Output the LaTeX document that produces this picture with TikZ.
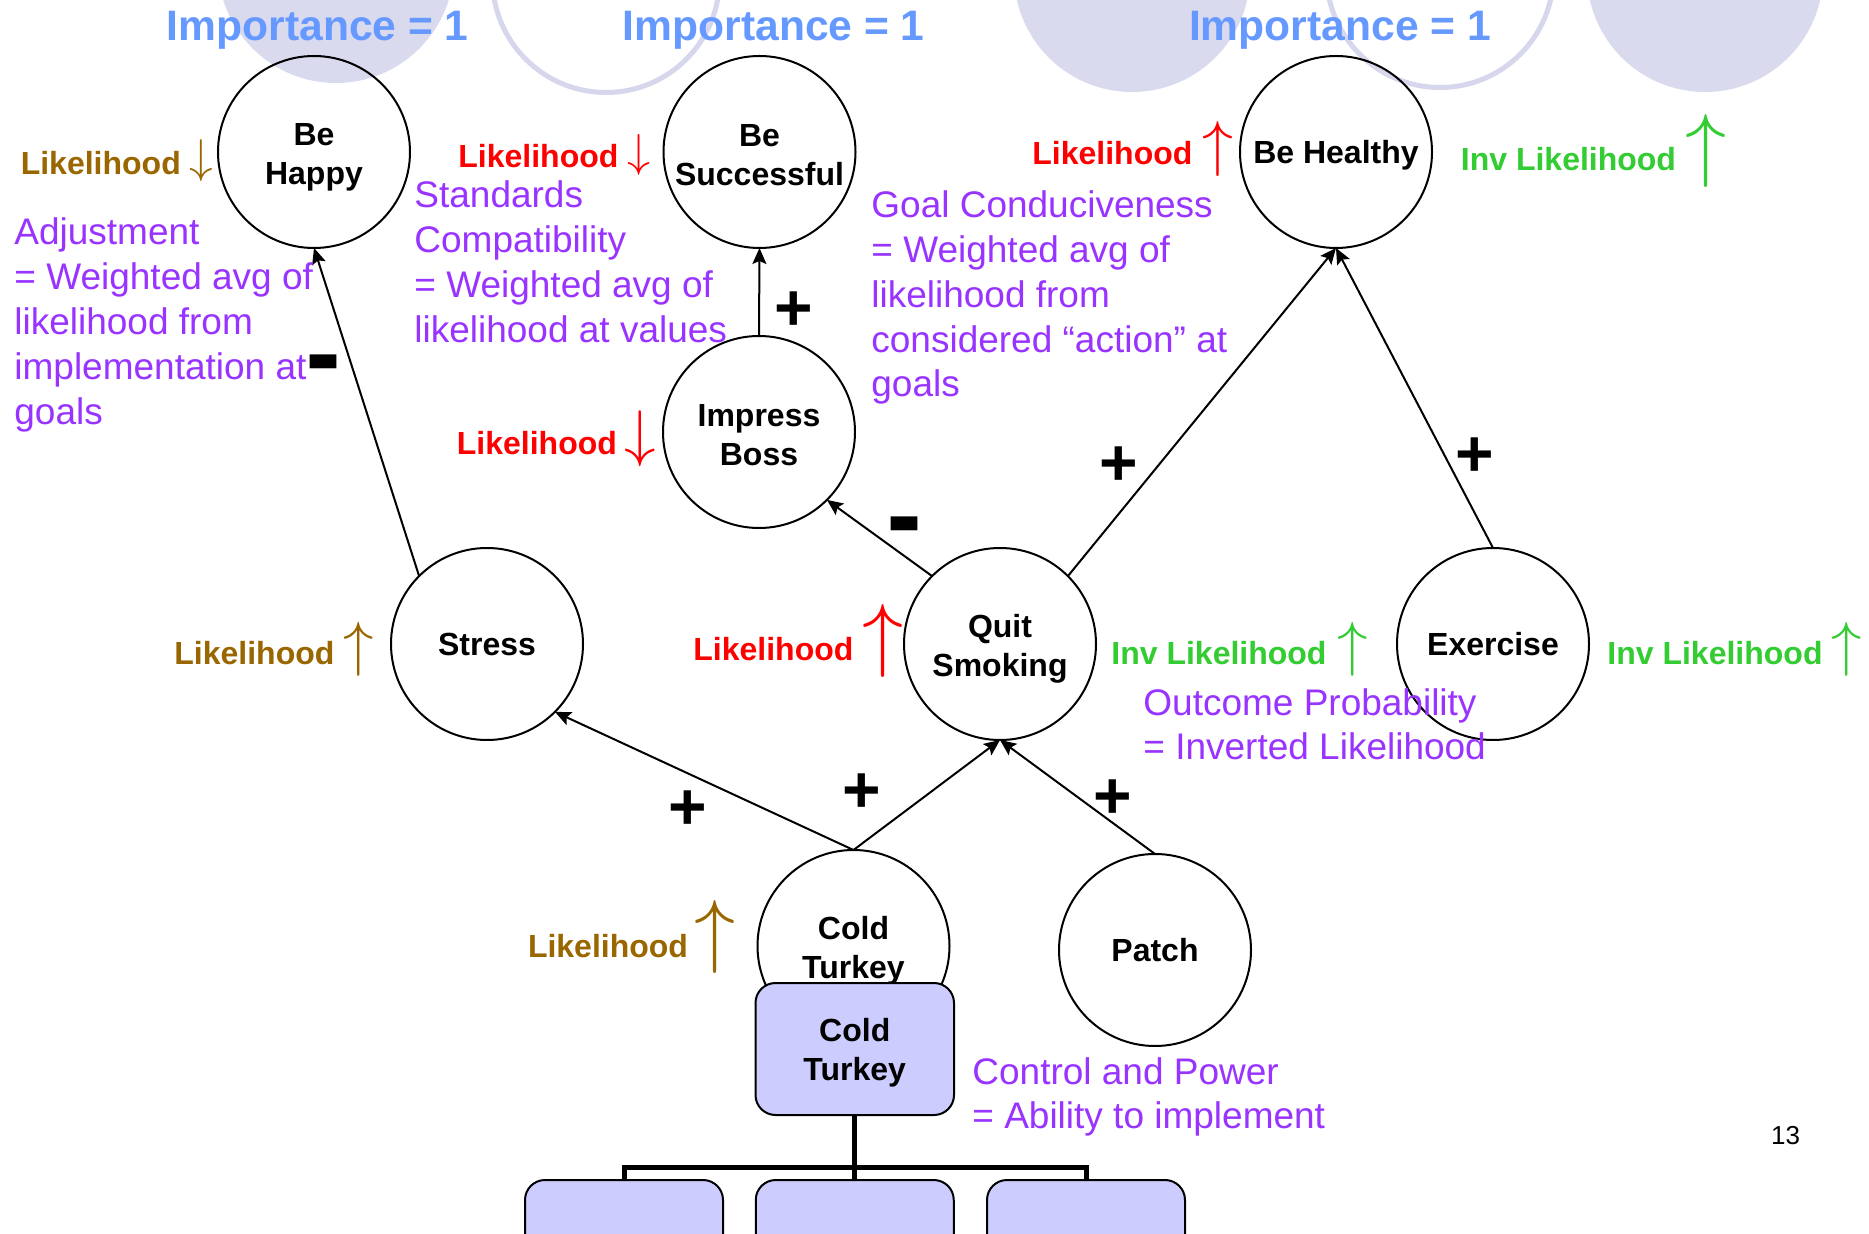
\documentclass[tikz,border=0pt]{standalone}
\usepackage{fontspec}
\usepackage{graphicx}
\setmainfont{Liberation Sans}
\usetikzlibrary{arrows.meta}

\definecolor{lav}{RGB}{218,218,238}
\definecolor{lavring}{RGB}{214,214,236}
\definecolor{boxfill}{RGB}{204,204,255}
\definecolor{impcol}{RGB}{102,153,255}
\definecolor{lbrown}{RGB}{153,102,0}
\definecolor{lred}{RGB}{255,0,0}
\definecolor{lgreen}{RGB}{51,204,51}
\definecolor{notecol}{RGB}{153,51,255}

% thin trend arrows of a given total height
\newcommand\trendup[1]{\resizebox*{!}{#1}{$\uparrow$}}
\newcommand\trenddown[1]{\resizebox*{!}{#1}{$\downarrow$}}
% invisible strut that sets the height of a node's first line
\newcommand\firstline[1]{\rule{0pt}{#1}}

\begin{document}
\begin{tikzpicture}[x=0.5pt,y=-0.5pt,
  goal/.style={circle, draw, line width=1pt, minimum size=96pt, inner sep=0pt,
    outer sep=0pt, align=center, font=\fontsize{16}{19.5}\selectfont\bfseries},
  ctbox/.style={draw, line width=1pt, fill=boxfill, rounded corners=10pt,
    minimum width=99.25pt, minimum height=66pt, inner sep=0pt, outer sep=0pt,
    align=center, font=\fontsize{16}{19.5}\selectfont\bfseries},
  optbox/.style={draw, line width=1pt, fill=boxfill, rounded corners=10pt,
    minimum width=99pt, minimum height=60pt, inner sep=0pt, outer sep=0pt, anchor=north},
  link/.style={-{Stealth[length=8pt,width=7pt,inset=1.5pt]}, line width=1pt},
  tree/.style={line width=2.5pt, line join=miter},
  lbl/.style={anchor=base west, inner sep=0pt, yshift=-1.2pt, font=\fontsize{16}{19.5}\selectfont\bfseries},
  note/.style={anchor=base west, inner sep=0pt, yshift=-1pt, text=notecol, font=\fontsize{18.5}{22.5}\selectfont},
  imp/.style={anchor=base, inner sep=0pt, yshift=-0.5pt, text=impcol, font=\fontsize{21.3}{25}\selectfont\bfseries},
  trend/.style={inner sep=0pt},
  sign/.style={inner sep=0pt, xshift=0.75pt, yshift=-2pt, font=\fontsize{33}{33}\selectfont\bfseries},
  minus/.style={inner sep=0pt, anchor=base, font=\fontsize{27}{27}\selectfont\bfseries}
]
\useasboundingbox (0,0) rectangle (1869,1234);
\fill[white] (0,0) rectangle (1869,1234);
\clip (0,0) rectangle (1869,1234);

% decorative circles along the top edge
\fill[lav] (336,-35) circle[radius=118];
\draw[lavring, line width=2.5pt] (606,-21) circle[radius=113.5];
\fill[lav] (1132,-26) circle[radius=118];
\draw[lavring, line width=2.5pt] (1440,-26) circle[radius=113.5];
\fill[lav] (1705,-26) circle[radius=118];

% importance of the top-level goals
\node[imp] (imp1) at (317.75,39.3) {Importance = 1};
\node[imp] (imp2) at (773.75,39.3) {Importance = 1};
\node[imp] (imp3) at (1340,39.3) {Importance = 1};

% goals and actions
\node[goal] (behappy) at (314,152) {\firstline{16pt}Be\\Happy};
\node[goal] (besucc) at (759.5,152) {\firstline{14.5pt}Be\\Successful};
\node[goal] (behealthy) at (1336,152) {\firstline{15pt}Be Healthy};
\node[goal] (impress) at (759,432) {\firstline{14.5pt}Impress\\Boss};
\node[goal] (stress) at (487,644) {Stress};
\node[goal] (quit) at (1000,644) {\firstline{16pt}Quit\\Smoking};
\node[goal] (exercise) at (1493,644) {Exercise};
\node[goal] (coldc) at (853.5,946) {\firstline{16pt}Cold\\Turkey};
\node[goal] (patch) at (1155,950) {Patch};

% influences
\draw[link] (stress.135) -- (behappy.south);
\draw[link] (impress.north) -- (besucc.south);
\draw[link] (quit.135) -- (impress.-45);
\draw[link] (quit.45) -- (behealthy.south);
\draw[link] (exercise.north) -- (behealthy.south);
\draw[link] (coldc.north) -- (stress.-45);
\draw[link] (coldc.north) -- (quit.south);
\draw[link] (patch.north) -- (quit.south);

% signs of the influences
\node[minus] (m1) at (324,399.6) {\scalebox{1}[2.6]{–}};
\node[sign] (p1) at (792,307) {+};
\node[minus] (m2) at (905,561.6) {\scalebox{1}[2.6]{–}};
\node[sign] (p2) at (1117,462.5) {+};
\node[sign] (p3) at (1473,453) {+};
\node[sign] (p4) at (686.6,806) {+};
\node[sign] (p5) at (860.6,789) {+};
\node[sign] (p6) at (1111,795) {+};

% implementation of Cold Turkey
\node[ctbox] (ctbox) at (854.75,1049) {\firstline{15.5pt}Cold\\Turkey};
\node[optbox] (opt1) at (624,1180) {};
\node[optbox] (opt2) at (854.75,1180) {};
\node[optbox] (opt3) at (1086,1180) {};
\coordinate (bar) at (854.75,1167);
\draw[tree] (ctbox.south) -- (bar);
\draw[tree] (bar) -| (opt1.north);
\draw[tree] (bar) -| (opt3.north);
\draw[tree] (bar) -- (opt2.north);

% likelihood labels
\node[lbl, text=lbrown] (lk1) at (20.4,171.7) {Likelihood};
\node[trend, text=lbrown] (t1) at (201,161) {\trenddown{21pt}};
\node[lbl, text=lred] (lk2) at (458,165) {Likelihood};
\node[trend, text=lred] (t2) at (639,154.5) {\trenddown{20.5pt}};
\node[lbl, text=lred] (lk3) at (456.5,452) {Likelihood};
\node[trend, text=lred] (t3) at (640,439) {\trenddown{28pt}};
\node[lbl, text=lred] (lk4) at (1032,161.7) {Likelihood};
\node[trend, text=lred] (t4) at (1217.6,149.5) {\trendup{27.5pt}};
\node[lbl, text=lgreen] (lk5) at (1460.5,167.7) {Inv Likelihood};
\node[trend, text=lgreen] (t5) at (1706,150.5) {\trendup{36.5pt}};
\node[lbl, text=lbrown] (lk6) at (174,661.7) {Likelihood};
\node[trend, text=lbrown] (t6) at (358.4,649) {\trendup{27pt}};
\node[lbl, text=lred] (lk7) at (693,658) {Likelihood};
\node[trend, text=lred] (t7) at (883,640.5) {\trendup{36.5pt}};
\node[lbl, text=lgreen] (lk8) at (1111,661.7) {Inv Likelihood};
\node[trend, text=lgreen] (t8) at (1353,649) {\trendup{27pt}};
\node[lbl, text=lgreen] (lk9) at (1607,661.7) {Inv Likelihood};
\node[trend, text=lgreen] (t9) at (1847,649) {\trendup{27pt}};
\node[lbl, text=lbrown] (lk10) at (527.6,955) {Likelihood};
\node[trend, text=lbrown] (t10) at (715,936.5) {\trendup{36.5pt}};

% appraisal notes
\node[note] (adj1) at (14,243) {Adjustment};
\node[note] (adj2) at (14,288) {= Weighted avg of};
\node[note] (adj3) at (14,333) {likelihood from};
\node[note] (adj4) at (14,378) {implementation at};
\node[note] (adj5) at (14,423) {goals};

\node[note] (std1) at (414,205.7) {Standards};
\node[note] (std2) at (414,250.7) {Compatibility};
\node[note] (std3) at (414,295.5) {= Weighted avg of};
\node[note] (std4) at (414,340.5) {likelihood at values};

\node[note] (gc1) at (871,215.7) {Goal Conduciveness};
\node[note] (gc2) at (871,260.5) {= Weighted avg of};
\node[note] (gc3) at (871,305.3) {likelihood from};
\node[note] (gc4) at (871,350.1) {considered “action” at};
\node[note] (gc5) at (871,394.9) {goals};

\node[note] (op1) at (1143,714) {Outcome Probability};
\node[note] (op2) at (1143,758) {= Inverted Likelihood};

\node[note] (cp1) at (972,1082) {Control and Power};
\node[note] (cp2) at (972,1126) {= Ability to implement};

% slide number
\node[anchor=base, inner sep=0pt, font=\fontsize{13}{15}\selectfont] (pageno) at (1785.5,1144) {13};
\end{tikzpicture}
\end{document}
